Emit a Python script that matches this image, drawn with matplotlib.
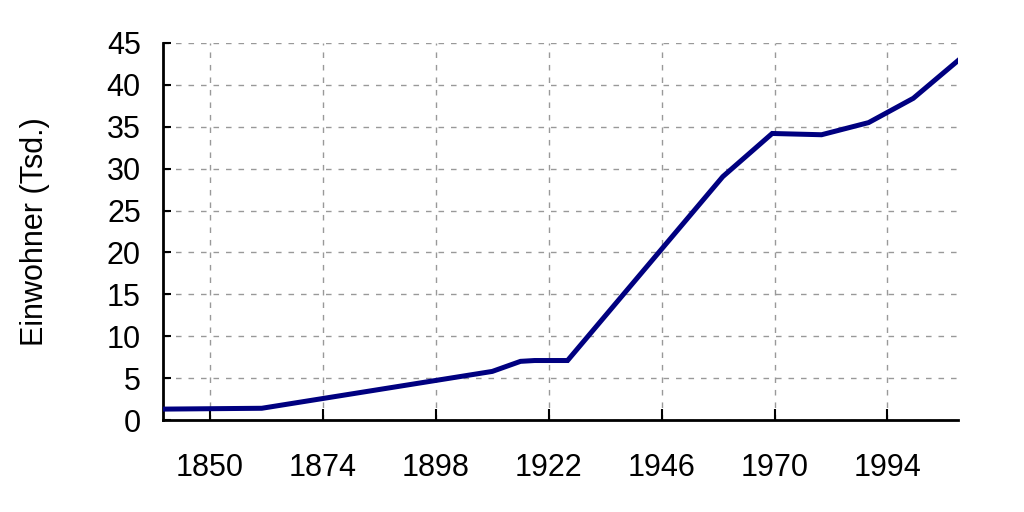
import matplotlib
matplotlib.use('Agg')
import matplotlib.pyplot as plt

# Einwohnerentwicklung (Tsd.)
years = [1840, 1861, 1910, 1916, 1919, 1926, 1959, 1969.5, 1980, 1990, 1999.5, 2009]
pop = [1.3, 1.4, 5.8, 7.0, 7.1, 7.1, 29.05, 34.2, 34.05, 35.5, 38.4, 42.9]

xticks = [1850, 1874, 1898, 1922, 1946, 1970, 1994]
yticks = [0, 5, 10, 15, 20, 25, 30, 35, 40, 45]

plt.rcParams['font.family'] = ['Liberation Sans', 'DejaVu Sans']

fig = plt.figure(figsize=(10.24, 5.12), dpi=100)
ax = fig.add_axes([163 / 1024, 1 - 420 / 512, (958 - 163) / 1024, (420 - 43) / 512])

ax.plot(years, pop, color='#000080', lw=3.6, solid_joinstyle='miter', zorder=3)

ax.set_xlim(1840, 2009)
ax.set_ylim(0, 45)
ax.set_xticks(xticks)
ax.set_yticks(yticks)
ax.grid(True, color='#999999', ls=(0, (4, 5)), lw=1)

for s in ['top', 'right']:
    ax.spines[s].set_visible(False)
for s in ['left', 'bottom']:
    ax.spines[s].set_linewidth(2)

ax.tick_params(axis='x', direction='in', length=8, width=1.5, pad=24, labelsize=22)
ax.tick_params(axis='y', direction='in', length=6, width=1.5, pad=16, labelsize=22)
ax.set_ylabel('Einwohner (Tsd.)', fontsize=22)
ax.yaxis.set_label_coords(-0.142, 0.5)

fig.savefig('out.png', dpi=100)
